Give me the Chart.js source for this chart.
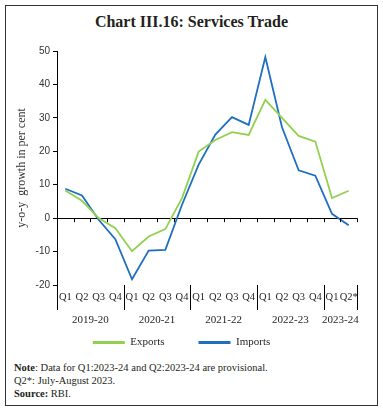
<!DOCTYPE html>
<html>
<head>
<meta charset="utf-8">
<script src="https://cdn.jsdelivr.net/npm/chart.js@4"></script>
<style>
  body { margin: 0; background: #fff; }
  #frame { position: absolute; left: 5px; top: 5px; width: 371px; height: 399px; border: 1px solid #333; }
  #title { position: absolute; left: 0; top: 7px; width: 100%; text-align: center;
           font: bold 16px/18px "Liberation Serif", serif; color: #231f20; }
  #wrap { position: absolute; left: 0; top: 30px; width: 371px; height: 322px; }
  #notes { position: absolute; left: 8px; top: 355px; font: 10.5px/13px "Liberation Serif", serif; color: #231f20; }
</style>
</head>
<body>
<div id="frame">
  <div id="title">Chart III.16: Services Trade</div>
  <div id="wrap"><canvas id="chart"></canvas></div>
  <div id="notes">
    <b>Note</b>: Data for Q1:2023-24 and Q2:2023-24 are provisional.<br>
    Q2*: July-August 2023.<br>
    <b>Source:</b> RBI.
  </div>
</div>
<script>
// 季度标签和财年分组
const quarters = ['Q1','Q2','Q3','Q4','Q1','Q2','Q3','Q4','Q1','Q2','Q3','Q4','Q1','Q2','Q3','Q4','Q1','Q2*'];
const years = ['2019-20', '2020-21', '2021-22', '2022-23', '2023-24'];
const yearSpans = [4, 4, 4, 4, 2];

// 同比增长（%）
const exportsData = [8.3, 5.2, 0.0, -3.0, -9.9, -5.5, -3.3, 6.0, 19.9, 23.4, 25.7, 24.9, 35.4, 30.0, 24.6, 22.9, 6.0, 8.2];
const importsData = [8.8, 6.8, -0.5, -6.3, -18.3, -9.7, -9.5, 4.0, 16.0, 25.0, 30.2, 27.9, 48.2, 27.2, 14.3, 12.7, 1.3, -2.1];

const yTicks = [-20, -10, 0, 10, 20, 30, 40, 50];

const serif = '"Liberation Serif", serif';
const sans = '"Liberation Sans", sans-serif';
const textColor = '#231f20';

// 零轴刻度、分隔线和年份
const extrasPlugin = {
    id: 'extras',
    afterDraw(chart) {
        const ctx = chart.ctx;
        const x = chart.scales.x;
        const y = chart.scales.y;
        const area = chart.chartArea;
        const half = (x.getPixelForValue(1) - x.getPixelForValue(0)) / 2;
        const y0 = y.getPixelForValue(0);

        ctx.save();
        ctx.strokeStyle = '#000';
        ctx.lineWidth = 1;
        ctx.beginPath();
        for (let i = 0; i < quarters.length; i++) {
            const px = Math.round(x.getPixelForValue(i) + half) + 0.5;
            ctx.moveTo(px, y0);
            ctx.lineTo(px, y0 + 4);
        }
        ctx.stroke();

        // 年份分隔线
        let idx = 0;
        const bottom = area.bottom;
        ctx.beginPath();
        const left = Math.round(x.getPixelForValue(0) - half) + 0.5;
        ctx.moveTo(left, bottom);
        ctx.lineTo(left, bottom + 25);
        ctx.font = '11px ' + serif;
        ctx.fillStyle = textColor;
        ctx.textAlign = 'center';
        ctx.textBaseline = 'middle';
        years.forEach((yr, k) => {
            const start = x.getPixelForValue(idx) - half;
            idx += yearSpans[k];
            const end = x.getPixelForValue(idx - 1) + half;
            const px = Math.round(end) + 0.5;
            ctx.moveTo(px, bottom);
            ctx.lineTo(px, bottom + 25);
            ctx.fillText(yr, (start + end) / 2, bottom + 35);
        });
        ctx.stroke();
        ctx.restore();
    }
};

new Chart(document.getElementById('chart'), {
    type: 'line',
    data: {
        labels: quarters,
        datasets: [
            {
                label: 'Exports',
                data: exportsData,
                borderColor: '#92d050',
                backgroundColor: '#92d050',
                borderWidth: 1.8,
                pointRadius: 0,
                tension: 0
            },
            {
                label: 'Imports',
                data: importsData,
                borderColor: '#1f6fc0',
                backgroundColor: '#1f6fc0',
                borderWidth: 1.8,
                pointRadius: 0,
                tension: 0
            }
        ]
    },
    options: {
        responsive: true,
        maintainAspectRatio: false,
        animation: false,
        layout: { padding: { left: 0, right: 20, top: 15, bottom: 0 } },
        plugins: {
            tooltip: { enabled: false },
            legend: {
                position: 'bottom',
                labels: {
                    font: { family: serif, size: 11 },
                    color: textColor,
                    boxWidth: 32,
                    boxHeight: 3,
                    padding: 34,
                    generateLabels(chart) {
                        return Chart.defaults.plugins.legend.labels.generateLabels(chart)
                            .map(l => Object.assign(l, { lineWidth: 0 }));
                    }
                }
            }
        },
        scales: {
            x: {
                type: 'category',
                offset: true,
                grid: { display: false, drawTicks: false },
                border: { display: false },
                ticks: {
                    font: { family: serif, size: 10.5 },
                    color: textColor,
                    padding: 6,
                    maxRotation: 0,
                    autoSkip: false
                },
                afterFit(scale) { scale.height = 18; }
            },
            y: {
                min: -20,
                max: 50,
                afterBuildTicks(scale) { scale.ticks = yTicks.map(v => ({ value: v })); },
                grid: {
                    color: c => c.tick && c.tick.value === 0 ? '#000' : 'rgba(0,0,0,0)',
                    tickColor: '#000',
                    tickLength: 4,
                    lineWidth: 1
                },
                border: { display: true, color: '#000', width: 1 },
                ticks: {
                    font: { family: sans, size: 10 },
                    color: '#333',
                    padding: 3
                },
                title: {
                    display: true,
                    text: 'y-o-y  growth in per cent',
                    font: { family: serif, size: 12 },
                    color: '#333',
                    padding: { top: 9, bottom: 0 }
                },
                afterFit(scale) { scale.width = 51; }
            }
        }
    },
    plugins: [extrasPlugin]
});
</script>
</body>
</html>
